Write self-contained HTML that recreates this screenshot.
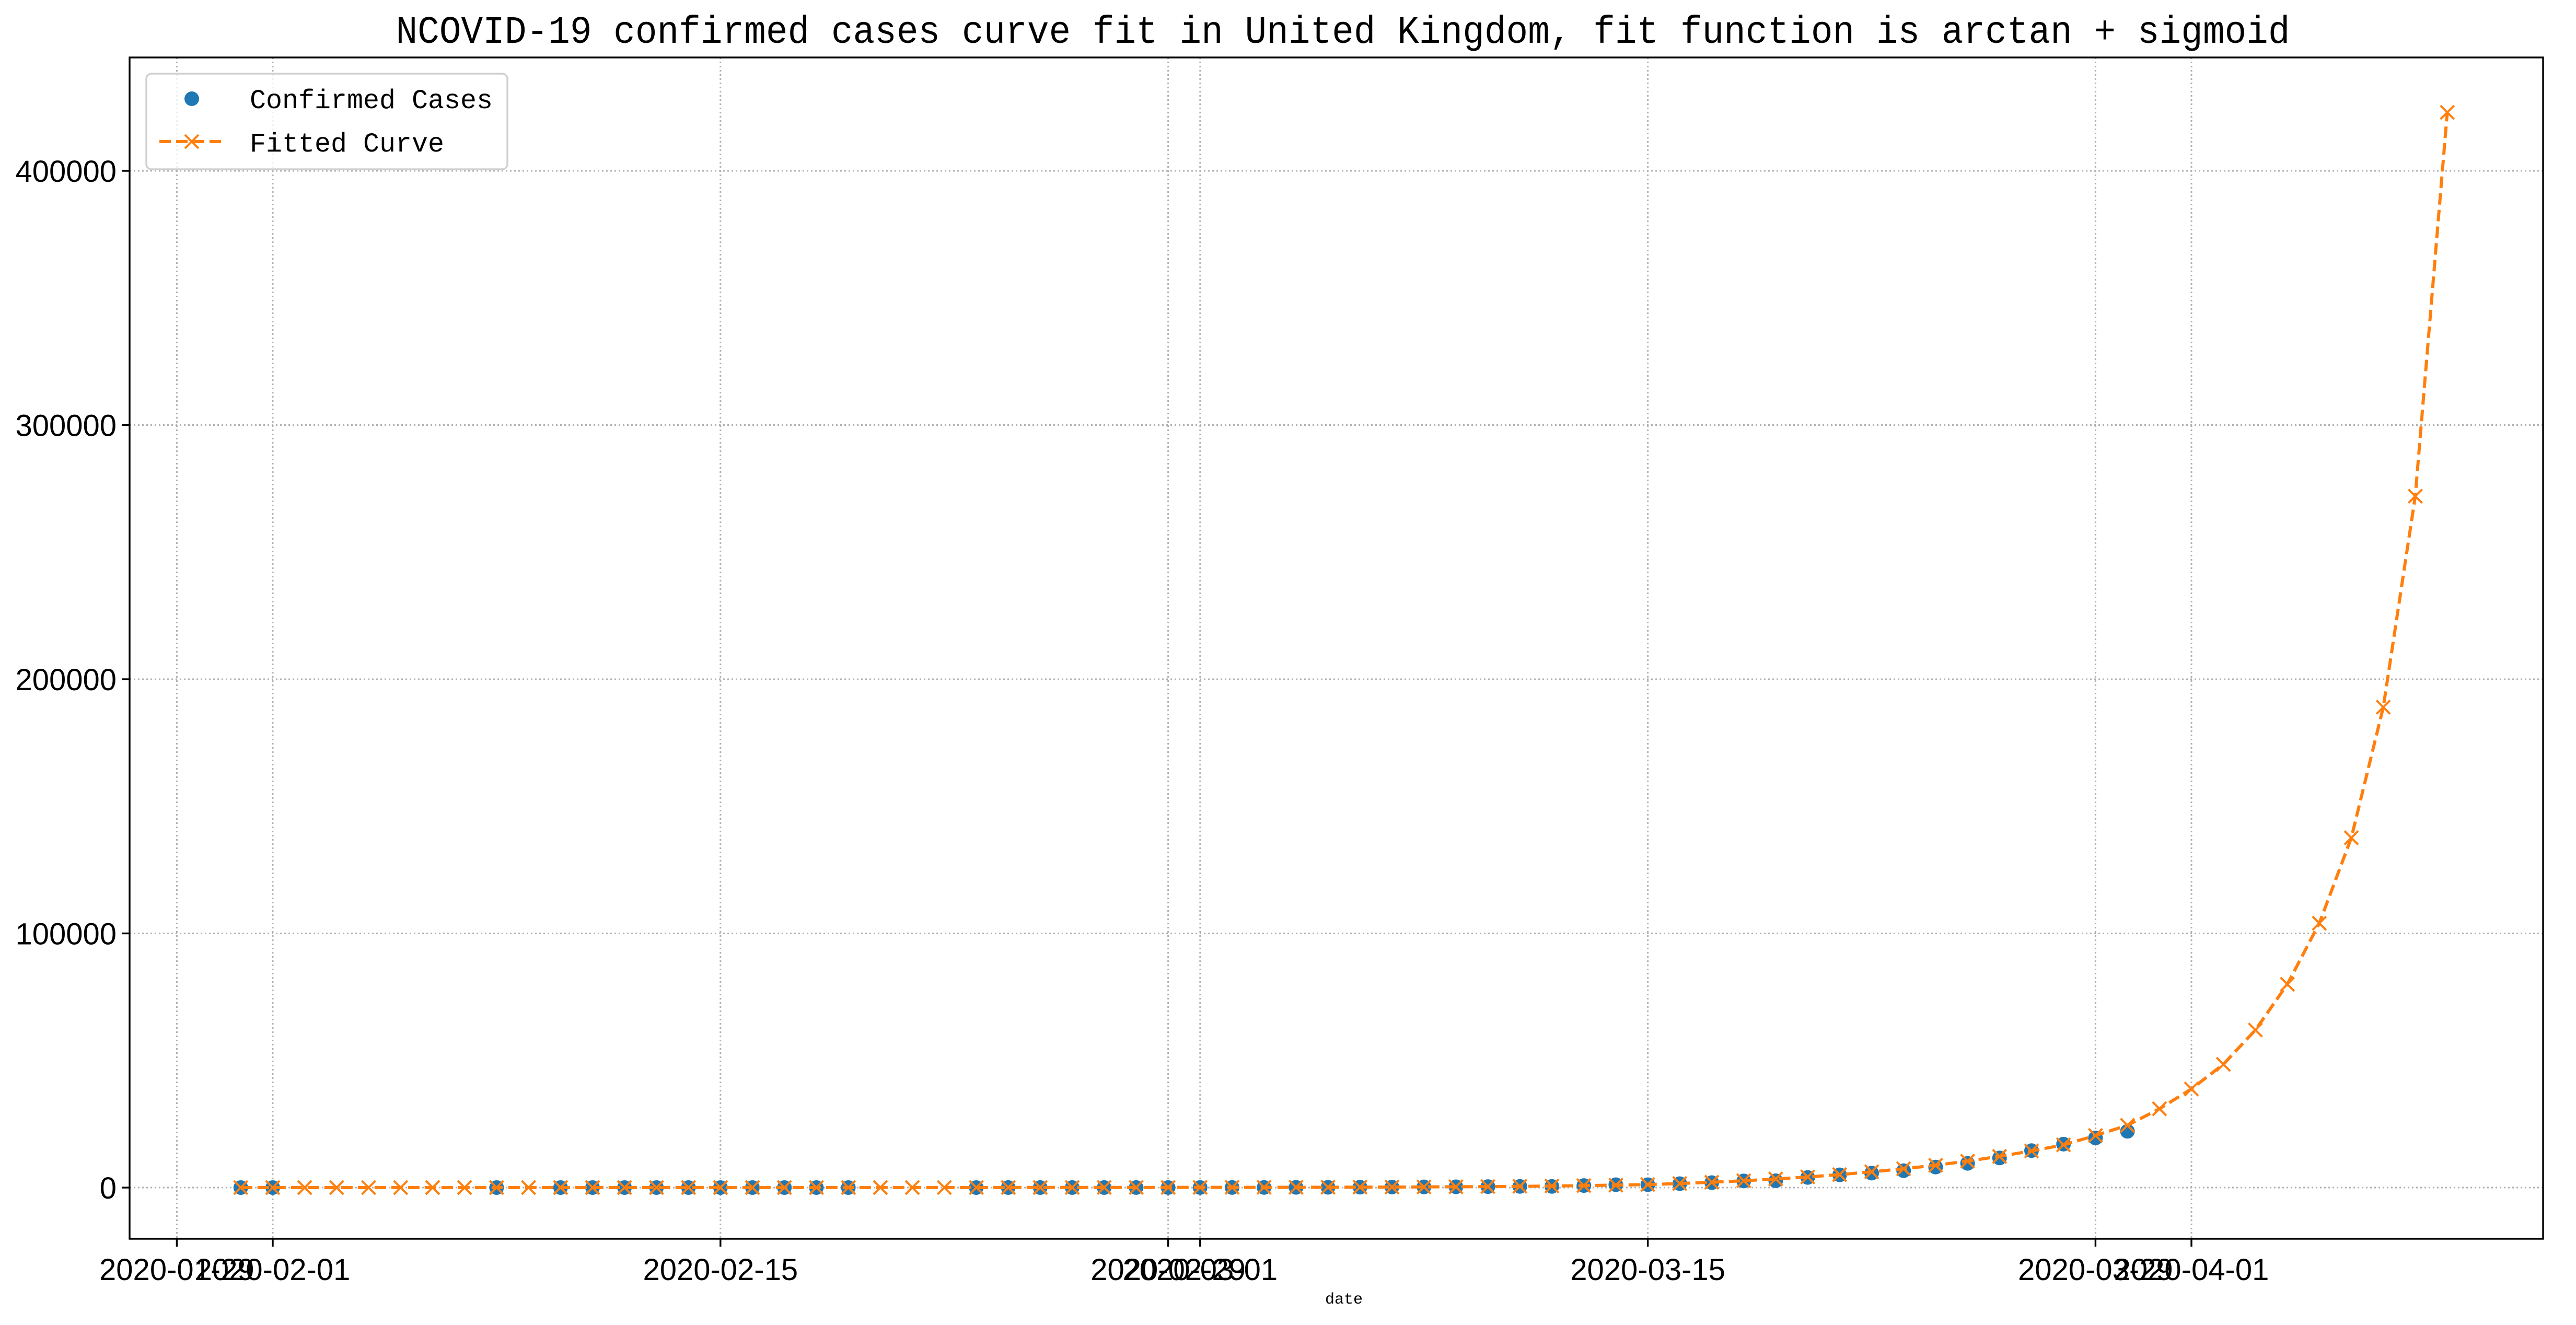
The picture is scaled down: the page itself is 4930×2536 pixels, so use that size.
<!DOCTYPE html>
<html><head><meta charset="utf-8"><style>
html,body{margin:0;padding:0;background:#fff;}
svg{display:block;}
</style></head><body>
<svg id="chart" width="4930" height="2536" xmlns="http://www.w3.org/2000/svg">
<rect x="0" y="0" width="4930" height="2536" fill="#fff"/>
<text x="2570" y="82" text-anchor="middle" font-family="'Liberation Mono','WenQuanYi Zen Hei',monospace" font-size="74" textLength="3625" lengthAdjust="spacingAndGlyphs">NCOVID-19 confirmed cases curve fit in United Kingdom, fit function is arctan + sigmoid</text>
<g id="grid"></g>
<g id="series"></g>
<g id="axes"></g>
</svg>
<script>
const confirmedDays = [2,3,10,12,13,14,15,16,17,18,19,20,21,25,26,27,28,29,30,31,32,33,34,35,36,37,38,39,40,41,42,43,44,45,46,47,48,49,50,51,52,53,54,55,56,57,58,59,60,61];
const confirmedValues = [2,2,3,8,8,9,9,9,9,9,9,9,9,9,13,13,13,15,20,23,36,40,51,85,115,163,206,273,321,382,456,456,798,1140,1140,1543,1950,2626,2689,3983,5018,5683,6650,8077,9529,11658,14543,17089,19522,22141];
const fittedValues = [1,1,2,2,3,4,5,5,6,7,8,9,10,11,12,13,14,16,18,20,22,24,27,30,34,38,43,49,56,64,74,86,100,120,145,175,210,260,320,400,500,620,780,970,1200,1600,2100,2700,3400,4200,5100,6200,7400,8800,10400,12300,14400,16800,20500,24500,31000,38800,48500,62000,80000,104000,137600,189000,272000,423000];
const fittedStartDay = 2;
const yTicks = [0,100000,200000,300000,400000];
const yTickLabels = ["0","100000","200000","300000","400000"];
const xTickDays = [0,3,17,31,32,46,60,63];
const xTickLabels = ["2020-01-29","2020-02-01","2020-02-15","2020-02-29","2020-03-01","2020-03-15","2020-03-29","2020-04-01"];

const NS="http://www.w3.org/2000/svg";
const L=248,R=4867,T=110,B=2371;
function xs(d){return 338.4+d*61.2;}
function ys(v){return 2273-v*(2273-327)/400000;}
function mk(tag,attrs,parent){const e=document.createElementNS(NS,tag);for(const k in attrs)e.setAttribute(k,attrs[k]);parent.appendChild(e);return e;}
const grid=document.getElementById('grid'),series=document.getElementById('series'),axes=document.getElementById('axes');

xTickDays.forEach((d,i)=>{
  const g=mk('line',{x1:xs(d),x2:xs(d),y1:T,y2:B,stroke:'#b0b0b0','stroke-width':3,'stroke-dasharray':'3,5'},grid);
  
  
  const t=mk('line',{x1:xs(d),x2:xs(d),y1:B,y2:B+15,stroke:'#000','stroke-width':3.4},axes);
  
  
  const lb=mk('text',{x:xs(d),y:2450,'text-anchor':'middle','font-family':"'Liberation Sans',sans-serif",'font-size':58},axes);
  lb.textContent=xTickLabels[i];
  
  
});
yTicks.forEach((v,i)=>{
  const g=mk('line',{x1:L,x2:R,y1:ys(v),y2:ys(v),stroke:'#b0b0b0','stroke-width':3,'stroke-dasharray':'3,5'},grid);
  
  
  const t=mk('line',{x1:L-15,x2:L,y1:ys(v),y2:ys(v),stroke:'#000','stroke-width':3.4},axes);
  
  
  const lb=mk('text',{x:L-25,y:ys(v)+21,'text-anchor':'end','font-family':"'Liberation Sans',sans-serif",'font-size':58},axes);
  lb.textContent=yTickLabels[i];
  
  
});
const sp=mk('rect',{x:L,y:T,width:R-L,height:B-T,fill:'none',stroke:'#000','stroke-width':3.4},axes);


const xl=mk('text',{x:2572,y:2495,'text-anchor':'middle','font-family':"'Liberation Mono',monospace",'font-size':30},axes);
xl.textContent='date';



confirmedDays.forEach((d,i)=>{
  const c=mk('circle',{cx:xs(d),cy:ys(confirmedValues[i]),r:14,fill:'#1f77b4'},series);
  
  
});
let pts=fittedValues.map((v,i)=>xs(fittedStartDay+i).toFixed(1)+','+ys(v).toFixed(1)).join(' ');
const pl=mk('polyline',{points:pts,fill:'none',stroke:'#ff7f0e','stroke-width':6,'stroke-dasharray':'22,10'},series);


fittedValues.forEach((v,i)=>{
  const x=xs(fittedStartDay+i),y=ys(v),s=13;
  const p=mk('path',{d:`M${x-s},${y-s}L${x+s},${y+s}M${x-s},${y+s}L${x+s},${y-s}`,stroke:'#ff7f0e','stroke-width':4,fill:'none'},series);
  
  
});

// legend
const lg=mk('g',{},axes);


mk('rect',{x:280,y:141,width:691,height:183,rx:10,fill:'#fff','fill-opacity':0.8,stroke:'#d0d0d0','stroke-width':3.4},lg);
const lc=mk('circle',{cx:367,cy:189,r:14,fill:'#1f77b4'},lg);


const ll=mk('line',{x1:305,x2:428,y1:271,y2:271,stroke:'#ff7f0e','stroke-width':6,'stroke-dasharray':'22,10'},lg);


mk('path',{d:'M354,258L380,284M354,284L380,258',stroke:'#ff7f0e','stroke-width':4},lg);
const t1=mk('text',{x:478,y:207,'font-family':"'Liberation Mono',monospace",'font-size':52,textLength:465,lengthAdjust:'spacingAndGlyphs'},lg);
t1.textContent='Confirmed Cases';


const t2=mk('text',{x:478,y:290,'font-family':"'Liberation Mono',monospace",'font-size':52,textLength:372,lengthAdjust:'spacingAndGlyphs'},lg);
t2.textContent='Fitted Curve';


</script>
</body></html>
